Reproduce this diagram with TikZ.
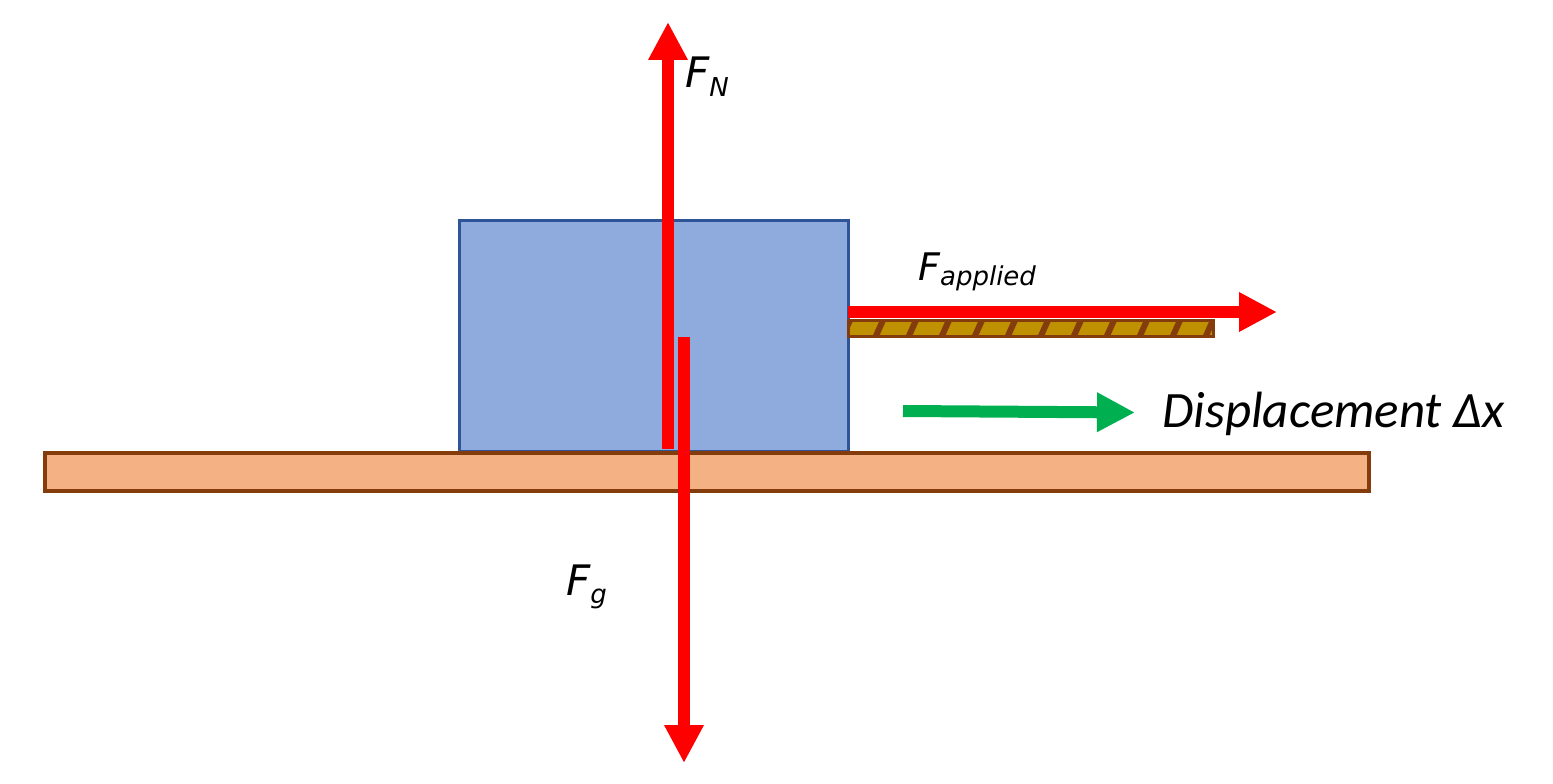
\documentclass[tikz,border=0pt]{standalone}
\usepackage{fontspec}
\newfontfamily\djv{DejaVu Sans}
\newfontfamily\carl{Carlito}
\usetikzlibrary{arrows.meta}
\definecolor{floorfill}{HTML}{F4B183}
\definecolor{floordraw}{HTML}{843C0C}
\definecolor{blockfill}{HTML}{8FAADC}
\definecolor{blockdraw}{HTML}{2F5597}
\definecolor{ropefill}{HTML}{BF9000}
\definecolor{forcered}{HTML}{FF0000}
\definecolor{dispgreen}{HTML}{00B050}
\tikzset{
  forcearrow/.style={draw=forcered, line width=12pt, line cap=butt,
    -{Triangle[width=37pt,length=38pt]}},
  disparrow/.style={draw=dispgreen, line width=12pt, line cap=butt,
    -{Triangle[width=37pt,length=38pt]}},
  lbl/.style={inner sep=0pt, anchor=base west, text=black},
}
\begin{document}
\begin{tikzpicture}[x=1pt,y=-1pt]
\useasboundingbox[fill=white] (0,0) rectangle (1553,784);
% block
\node[draw=blockdraw, fill=blockfill, line width=3pt, inner sep=0pt,
  minimum width=389pt, minimum height=231pt, anchor=north west] (block) at (458,219) {};
% floor
\node[draw=floordraw, fill=floorfill, line width=3.5pt, inner sep=0pt,
  minimum width=1324pt, minimum height=38pt, anchor=north west] (floor) at (43,451) {};
% rope
\node[fill=ropefill, inner sep=0pt, minimum width=365pt, minimum height=16pt,
  anchor=north west] (rope) at (848,320) {};
\begin{scope}
  \clip (848,320) rectangle (1213,336);
  \foreach \x in {842,875,...,1230}{
    \draw[floordraw, line width=6pt] (\x,338) -- (\x+9,318);
  }
\end{scope}
\draw[floordraw, line width=3pt] (rope.north west) rectangle (rope.south east);
% coordinates for force arrows
\coordinate (fnbot) at (668,449);
\coordinate (fntop) at (668,22);
\coordinate (fgtop) at (684,337);
\coordinate (fgbot) at (684,763);
\coordinate (fastart) at (848,312);
\coordinate (faend) at (1277,312);
\coordinate (dstart) at (903,411);
\coordinate (dend) at (1135,412.5);
\draw[forcearrow] (fnbot) -- (fntop);
\draw[forcearrow] (fgtop) -- (fgbot);
\draw[forcearrow] (fastart) -- (faend);
\draw[disparrow] (dstart) -- (dend);
% labels
\node[lbl] (fnlabel) at (685,88) {\djv\itshape\fontsize{42}{42}\selectfont F\raisebox{-0.2em}{\fontsize{26}{26}\selectfont N}};
\node[lbl] (fglabel) at (566,595) {\djv\itshape\fontsize{42}{42}\selectfont F\raisebox{-0.2em}{\fontsize{26}{26}\selectfont g}};
\node[lbl] (falabel) at (918,280) {\djv\itshape\fontsize{38}{38}\selectfont F\raisebox{-0.15em}{\fontsize{26}{26}\selectfont applied}};
\node[lbl] (displabel) at (1162,427) {\carl\itshape\fontsize{51}{51}\selectfont Displacement Δx};
\end{tikzpicture}
\end{document}
